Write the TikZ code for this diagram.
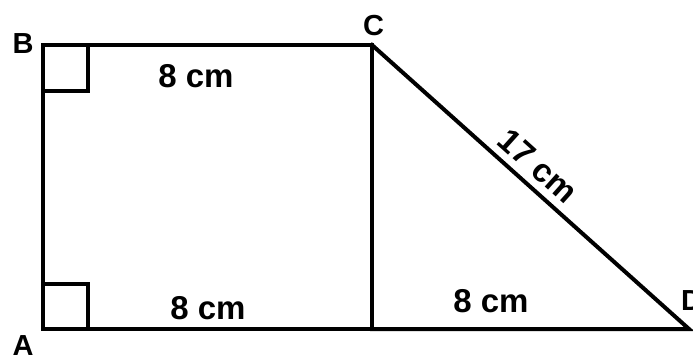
\documentclass[tikz,border=0pt]{standalone}
\usepackage{fontspec}
\setmainfont{Liberation Sans}
\begin{document}
\begin{tikzpicture}[x=1pt,y=-1pt,
  edge/.style={line width=4pt,line cap=rect,line join=miter},
  lbl/.style={font=\fontsize{33}{36}\selectfont\bfseries,inner sep=0pt},
  vlbl/.style={font=\fontsize{29}{32}\selectfont\bfseries,inner sep=0pt}]
\useasboundingbox (0,0) rectangle (693,356);
\coordinate (A) at (43,329);
\coordinate (B) at (43,45);
\coordinate (C) at (372,45);
\coordinate (E) at (372,329);
\coordinate (D) at (689,329);
\draw[edge] (A) -- (B) -- (C) -- (E) -- cycle;
\draw[edge] (C) -- (D) -- (E);
\draw[edge] (43,91) -| (88,45);
\draw[edge] (43,284) -| (88,329);
\node[vlbl] (lB) at (23,44) {B};
\node[vlbl] (lA) at (23,346) {A};
\node[vlbl] (lC) at (373.5,26) {C};
\node[vlbl,anchor=west] (lD) at (681,301) {D};
\node[lbl] (t1) at (196,76) {8 cm};
\node[lbl] (t2) at (208,308) {8 cm};
\node[lbl] (t3) at (491,301.5) {8 cm};
\node[lbl,rotate=-41.9] (t4) at (538,166) {17 cm};
\end{tikzpicture}
\end{document}
